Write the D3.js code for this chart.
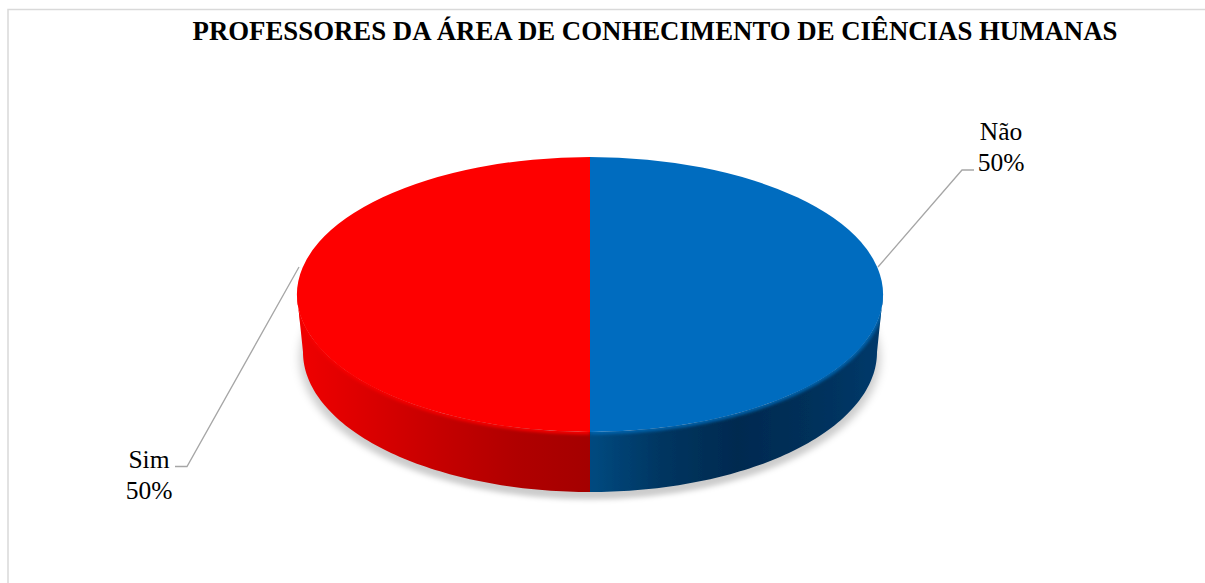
<!DOCTYPE html>
<html lang="pt">
<head>
<meta charset="utf-8">
<title>Professores da área de conhecimento de ciências humanas</title>
<script src="https://cdn.jsdelivr.net/npm/d3@7"></script>
<style>
  html, body { margin: 0; padding: 0; background: #fff; }
  svg { display: block; }
  text { font-family: "Liberation Serif", serif; fill: #000; }
</style>
</head>
<body>
<svg id="chart" width="1205" height="583"></svg>
<script>
// Chart content
const chartTitle = "PROFESSORES DA ÁREA DE CONHECIMENTO DE CIÊNCIAS HUMANAS";
const categories = ["Não", "Sim"];
const shares = [50, 50];

// Colours per category: top face, rim glow, then wall gradient stops from left to right
const faceColors = ["#026cbf", "#fe0000"];
const rimColors = ["#0560a8", "#f40000"];
const wallStops = [
  ["#004a80", "#003560", "#002a50", "#00305a", "#003a6b"],
  ["#f00000", "#da0000", "#c40000", "#b00000", "#a40000"]
];

// Disc geometry: the base ellipse is narrower and rounder, as seen in perspective
const width = 1205, height = 583;
const cx = 590;
const topEllipse = { cy: 294.5, rx: 293, ry: 137.5 };
const baseEllipse = { cy: 352, rx: 287, ry: 140 };

// Leader lines and label placement for each category
const leaders = [
  [[878, 267], [962, 170], [974, 170]],
  [[299, 267], [187, 466.5], [175, 466.5]]
];
const labelSpots = [
  { x: 1001, y: 140 },
  { x: 149, y: 468 }
];

const svg = d3.select("#chart");
const defs = svg.append("defs");

defs.append("filter").attr("id", "soft-shadow")
  .attr("x", "-10%").attr("y", "-20%").attr("width", "120%").attr("height", "140%")
  .append("feGaussianBlur").attr("stdDeviation", 5);
defs.append("filter").attr("id", "edge-soft")
  .attr("x", "-5%").attr("y", "-5%").attr("width", "110%").attr("height", "110%")
  .append("feGaussianBlur").attr("stdDeviation", 0.7);
defs.append("filter").attr("id", "bevel-soft")
  .attr("x", "-5%").attr("y", "-10%").attr("width", "110%").attr("height", "120%")
  .append("feGaussianBlur").attr("stdDeviation", 1.4);

// Chart frame: runs off the right and bottom of the page
svg.append("path")
  .attr("d", d3.line()([[8, height + 5], [8, 9.5], [width + 5, 9.5]]))
  .attr("fill", "none").attr("stroke", "#d9d9d9").attr("stroke-width", 1.5);

svg.append("text")
  .attr("x", 655).attr("y", 39.5)
  .attr("text-anchor", "middle")
  .attr("font-size", 26.8).attr("font-weight", "bold")
  .text(chartTitle);

const pie = d3.pie().sort(null).startAngle(0).endAngle(2 * Math.PI);
const slices = pie(shares);

// Ellipse point for a d3 pie angle (0 at twelve o'clock, clockwise)
const rimPoint = (angle, e) =>
  [cx + e.rx * Math.sin(angle), e.cy - e.ry * Math.cos(angle)];

// Only the front half of the rim is visible
const frontAngles = slice => {
  const from = Math.max(slice.startAngle, Math.PI / 2);
  const to = Math.min(slice.endAngle, 3 * Math.PI / 2);
  return d3.range(0, 81).map(i => from + (to - from) * i / 80);
};

function wallOutline(slice) {
  const angles = frontAngles(slice);
  const upper = angles.map(a => rimPoint(a, topEllipse));
  const lower = angles.slice().reverse().map(a => rimPoint(a, baseEllipse));
  return d3.line()(upper.concat(lower)) + "Z";
}

// Soft shadow under the disc
const shadowArc = d3.arc().innerRadius(0).outerRadius(baseEllipse.rx + 3)
  .startAngle(0).endAngle(2 * Math.PI);
svg.append("path")
  .attr("d", shadowArc())
  .attr("transform", `translate(${cx},${baseEllipse.cy + 6}) scale(1,${baseEllipse.ry / baseEllipse.rx})`)
  .attr("fill", "#000").attr("fill-opacity", 0.2)
  .attr("filter", "url(#soft-shadow)");

// Wall gradients span each slice's horizontal extent
slices.forEach((slice, i) => {
  const xs = frontAngles(slice).map(a => rimPoint(a, topEllipse)[0]);
  const stops = wallStops[i];
  const grad = defs.append("linearGradient")
    .attr("id", `wall-${i}`)
    .attr("gradientUnits", "userSpaceOnUse")
    .attr("x1", d3.min(xs)).attr("x2", d3.max(xs))
    .attr("y1", 0).attr("y2", 0);
  stops.forEach((c, k) => {
    grad.append("stop")
      .attr("offset", k / (stops.length - 1))
      .attr("stop-color", c);
  });
  defs.append("clipPath").attr("id", `wall-clip-${i}`)
    .append("path").attr("d", wallOutline(slice));
});

const disc = svg.append("g").attr("filter", "url(#edge-soft)");

const wallGroups = disc.selectAll("g.wall")
  .data(slices)
  .join("g")
  .attr("class", "wall");

wallGroups.append("path")
  .attr("d", wallOutline)
  .attr("fill", (d, i) => `url(#wall-${i})`);

// Lighter rim where each wall meets the top face, kept inside its wall
wallGroups.append("g")
  .attr("clip-path", (d, i) => `url(#wall-clip-${i})`)
  .append("path")
  .attr("d", slice => d3.line()(frontAngles(slice).map(a => rimPoint(a, topEllipse))))
  .attr("fill", "none")
  .attr("stroke", (d, i) => rimColors[i])
  .attr("stroke-width", 5)
  .attr("filter", "url(#bevel-soft)");

// Top face drawn as a flattened circle
const faceArc = d3.arc().innerRadius(0).outerRadius(topEllipse.rx);
disc.append("g")
  .attr("transform", `translate(${cx},${topEllipse.cy}) scale(1,${topEllipse.ry / topEllipse.rx})`)
  .selectAll("path")
  .data(slices)
  .join("path")
  .attr("d", faceArc)
  .attr("fill", (d, i) => faceColors[i]);

// Leader lines
svg.append("g").selectAll("path")
  .data(leaders)
  .join("path")
  .attr("d", d3.line())
  .attr("fill", "none")
  .attr("stroke", "#a6a6a6")
  .attr("stroke-width", 1.3);

// Category and share labels
const labels = svg.append("g").selectAll("text")
  .data(categories)
  .join("text")
  .attr("text-anchor", "middle")
  .attr("font-size", 25.5);
labels.append("tspan")
  .attr("x", (d, i) => labelSpots[i].x)
  .attr("y", (d, i) => labelSpots[i].y)
  .text(d => d);
labels.append("tspan")
  .attr("x", (d, i) => labelSpots[i].x)
  .attr("y", (d, i) => labelSpots[i].y + 30.5)
  .text((d, i) => `${shares[i]}%`);
</script>
</body>
</html>
